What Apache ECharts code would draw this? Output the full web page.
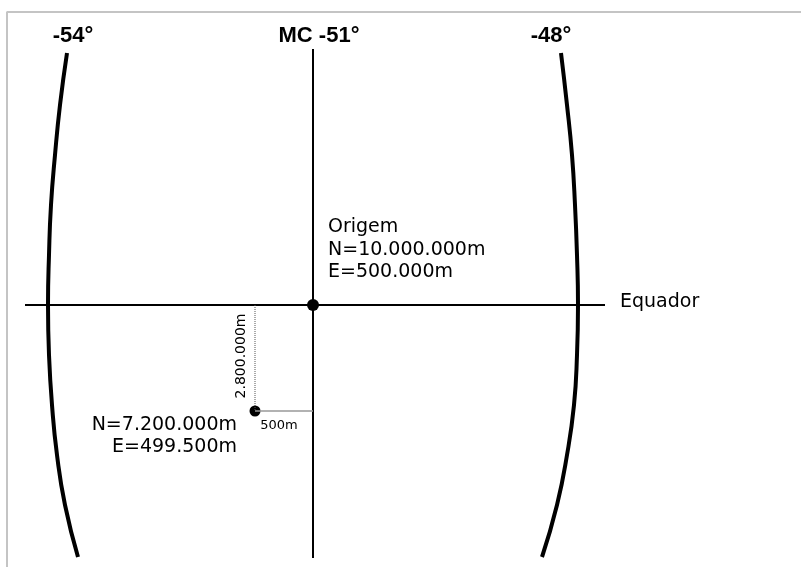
<!DOCTYPE html>
<html>
<head>
<meta charset="utf-8">
<script src="https://cdn.jsdelivr.net/npm/echarts@6/dist/echarts.min.js"></script>
<style>
  html, body { margin: 0; padding: 0; background: #fff; }
  #chart { width: 801px; height: 567px; }
</style>
</head>
<body>
<div id="chart"></div>
<script>
// diagram coordinates (x to the right, y downward)
var frame = [[7, 567], [7, 12], [801, 12]];
var westMeridian = [[67, 53], [60, 105], [55, 155], [51, 205], [49, 255], [48, 305], [49, 355], [52, 405], [57, 455], [65, 505], [78, 557]];
var eastMeridian = [[561, 53], [567, 105], [572, 155], [575, 205], [577, 255], [578, 305], [577, 355], [574, 405], [567, 455], [557, 505], [542, 557]];
var centralMeridian = [[313, 49], [313, 558]];
var equator = [[25, 305], [605, 305]];
var northOffset = [[255, 305], [255, 411]];
var eastOffset = [[255, 411], [313, 411]];
var points = [[313, 305], [255, 411]];

var meridianLabels = [
  { name: "-54°", value: [73, 36] },
  { name: "MC -51°", value: [319, 36] },
  { name: "-48°", value: [551, 36] }
];
var originLabels = [
  { name: "Origem", value: [328, 227] },
  { name: "N=10.000.000m", value: [328, 250] },
  { name: "E=500.000m", value: [328, 272] },
  { name: "Equador", value: [620, 302] }
];
var pointLabels = [
  { name: "N=7.200.000m", value: [237, 425] },
  { name: "E=499.500m", value: [237, 447] }
];

var chart = echarts.init(document.getElementById("chart"));

function line(data, width, color, type) {
  return {
    type: "line",
    data: data,
    symbol: "none",
    silent: true,
    lineStyle: { width: width, color: color, type: type || "solid" }
  };
}

function textSeries(data, opts) {
  return {
    type: "scatter",
    data: data,
    symbolSize: 1,
    silent: true,
    itemStyle: { color: "rgba(0,0,0,0)", opacity: 1 },
    label: Object.assign({
      show: true,
      position: "inside",
      formatter: "{b}",
      color: "#000",
      fontFamily: "DejaVu Sans",
      fontSize: 19,
      verticalAlign: "middle"
    }, opts)
  };
}

chart.setOption({
  animation: false,
  backgroundColor: "#fff",
  grid: { left: 0, right: 0, top: 0, bottom: 0 },
  xAxis: { type: "value", min: 0, max: 801, show: false },
  yAxis: { type: "value", min: 0, max: 567, inverse: true, show: false },
  series: [
    line(frame, 2, "#c4c4c4"),
    Object.assign(line(westMeridian, 4, "#000"), { smooth: true }),
    Object.assign(line(eastMeridian, 4, "#000"), { smooth: true }),
    line(centralMeridian, 2, "#000"),
    line(equator, 2, "#000"),
    line(northOffset, 1, "#555", "dotted"),
    line(eastOffset, 1.5, "#999"),
    {
      type: "scatter",
      data: points,
      symbolSize: function (v, p) { return p.dataIndex === 0 ? 12 : 11; },
      itemStyle: { color: "#000", opacity: 1 },
      silent: true
    },
    textSeries(meridianLabels, { fontFamily: "Liberation Sans", fontWeight: "bold", fontSize: 22, align: "center" }),
    textSeries(originLabels, { align: "left" }),
    textSeries(pointLabels, { align: "right" }),
    textSeries([{ name: "2.800.000m", value: [241, 356] }], { fontSize: 14, align: "center", rotate: 90 }),
    textSeries([{ name: "500m", value: [279, 426] }], { fontSize: 13, align: "center" })
  ]
});
</script>
</body>
</html>
